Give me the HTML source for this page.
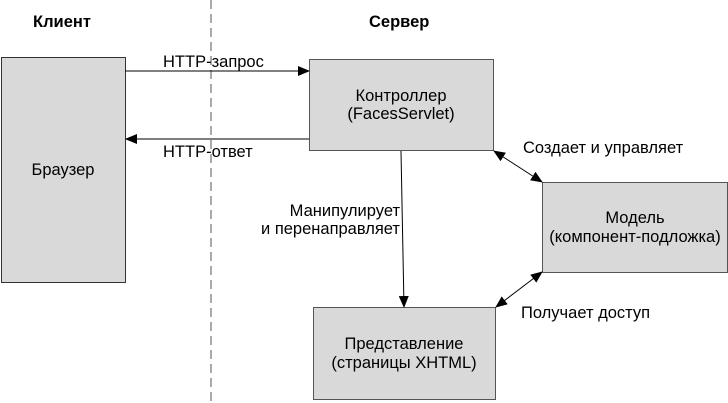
<!DOCTYPE html>
<html><head><meta charset="utf-8"><style>
body{margin:0;background:#fff}
svg{display:block}
text{font-family:"Liberation Sans",sans-serif;font-size:16.5px;fill:#000}
</style></head><body>
<svg width="728" height="403" viewBox="0 0 728 403" xmlns="http://www.w3.org/2000/svg">
<defs>
<marker id="a" markerWidth="12" markerHeight="10" refX="11" refY="5" orient="auto" markerUnits="userSpaceOnUse"><path d="M0,0 L12,5 L0,10 Z" fill="#000"/></marker>
<marker id="b" markerWidth="12" markerHeight="10" refX="1" refY="5" orient="auto" markerUnits="userSpaceOnUse"><path d="M12,0 L0,5 L12,10 Z" fill="#000"/></marker>
</defs>
<line x1="211" y1="0" x2="211" y2="403" stroke="#555" stroke-dasharray="9,5"/>
<text x="33" y="27" font-weight="bold">Клиент</text>
<text x="369" y="27" font-weight="bold">Сервер</text>
<rect x="1.5" y="57.5" width="124" height="225" fill="#d9d9d9" stroke="#333"/>
<text x="63" y="175" text-anchor="middle">Браузер</text>
<rect x="309.5" y="59.5" width="184" height="91" fill="#d9d9d9" stroke="#555"/>
<text x="401" y="101" text-anchor="middle">Контроллер</text>
<text x="401" y="119" text-anchor="middle">(FacesServlet)</text>
<rect x="542.5" y="182.5" width="185" height="90" fill="#d9d9d9" stroke="#555"/>
<text x="635" y="223" text-anchor="middle">Модель</text>
<text x="635" y="242" text-anchor="middle">(компонент-подложка)</text>
<rect x="313.5" y="307.5" width="182" height="92" fill="#d9d9d9" stroke="#555"/>
<text x="404" y="349" text-anchor="middle">Представление</text>
<text x="404" y="368" text-anchor="middle">(страницы XHTML)</text>
<line x1="125" y1="71" x2="309" y2="71" stroke="#000" marker-end="url(#a)"/>
<text x="163" y="67">HTTP-запрос</text>
<line x1="309" y1="139" x2="126" y2="139" stroke="#555" stroke-width="1.5" marker-end="url(#a)"/>
<text x="163" y="157">HTTP-ответ</text>
<line x1="401" y1="151" x2="404" y2="307" stroke="#000" marker-end="url(#a)"/>
<text x="400" y="216" text-anchor="end">Манипулирует</text>
<text x="400" y="234" text-anchor="end">и перенаправляет</text>
<line x1="494" y1="151" x2="542" y2="182" stroke="#000" marker-start="url(#b)" marker-end="url(#a)"/>
<text x="523" y="153">Создает и управляет</text>
<line x1="542" y1="272" x2="496" y2="307" stroke="#000" marker-start="url(#b)" marker-end="url(#a)"/>
<text x="521" y="318">Получает доступ</text>
</svg>
</body></html>
